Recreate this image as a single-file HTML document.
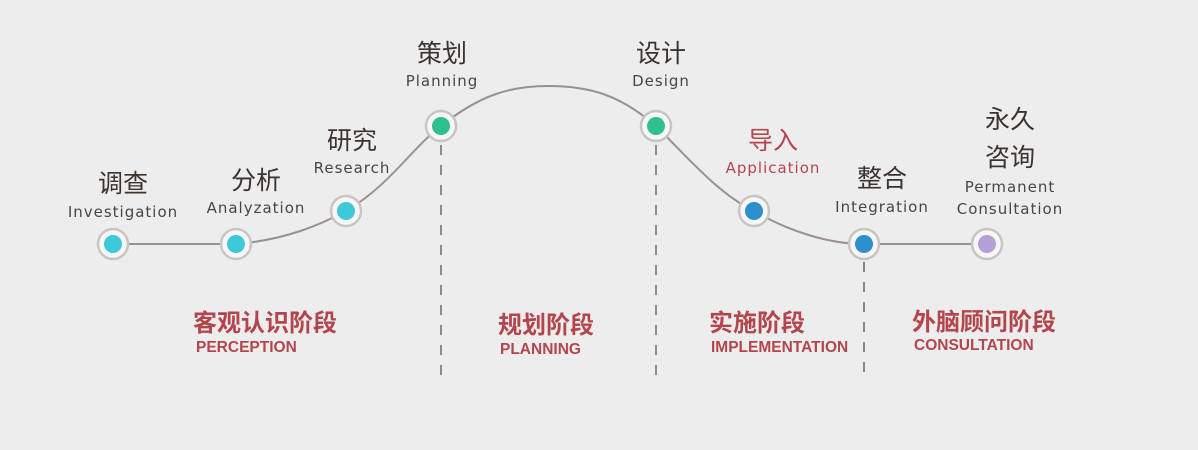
<!DOCTYPE html>
<html><head><meta charset="utf-8"><style>
html,body{margin:0;padding:0;background:#ededed;}
svg{display:block}
.cn{font-family:"Liberation Sans","Noto Sans CJK SC",sans-serif;font-size:25px;fill:#3a3330;text-anchor:middle}
.en{font-family:"DejaVu Sans","Liberation Sans",sans-serif;font-size:15px;fill:#4a4442;text-anchor:middle;letter-spacing:1px}
.rc{font-family:"Liberation Sans","Noto Sans CJK SC",sans-serif;font-size:24px;font-weight:bold;fill:#b3454d}
.re{font-family:"Liberation Sans",sans-serif;font-size:15.5px;font-weight:bold;fill:#b3454d}
</style></head><body>
<svg width="1198" height="450" viewBox="0 0 1198 450">
<g stroke="#8a8a8a" stroke-width="2" stroke-dasharray="10,10" fill="none">
<line x1="441" y1="145" x2="441" y2="382"/>
<line x1="656" y1="145" x2="656" y2="382"/>
<line x1="864" y1="262" x2="864" y2="382"/>
</g>
<path d="M113 244 L236 244 C285 240 320 225 346 211 C390 185 410 150 441 126 C480 95 510 86 548 86 C590 86 620 95 656 126 C690 160 720 195 754 211 C790 232 830 244 864 244 L987 244" fill="none" stroke="#9a9090" stroke-width="2"/>
<g stroke="#c8c4c2" stroke-width="2.5" fill="#f6f6f6">
<circle cx="113" cy="244" r="15"/><circle cx="236" cy="244" r="15"/><circle cx="346" cy="211" r="15"/><circle cx="441" cy="126" r="15"/><circle cx="656" cy="126" r="15"/><circle cx="754" cy="211" r="15"/><circle cx="864" cy="244" r="15"/><circle cx="987" cy="244" r="15"/>
</g>
<circle cx="113" cy="244" r="9" fill="#3ec9d8"/><circle cx="236" cy="244" r="9" fill="#3ec9d8"/><circle cx="346" cy="211" r="9" fill="#3ec9d8"/>
<circle cx="441" cy="126" r="9" fill="#2ec08e"/><circle cx="656" cy="126" r="9" fill="#2ec08e"/>
<circle cx="754" cy="211" r="9" fill="#2d8fcc"/><circle cx="864" cy="244" r="9" fill="#2d8fcc"/>
<circle cx="987" cy="244" r="9" fill="#b5a0d6"/>
<text class="cn" x="123" y="192">调查</text><text class="en" x="123" y="217">Investigation</text>
<text class="cn" x="256" y="189">分析</text><text class="en" x="256" y="213">Analyzation</text>
<text class="cn" x="352" y="149">研究</text><text class="en" x="352" y="173">Research</text>
<text class="cn" x="442" y="62">策划</text><text class="en" x="442" y="86">Planning</text>
<text class="cn" x="661" y="62">设计</text><text class="en" x="661" y="86">Design</text>
<text class="cn" x="773" y="149" style="fill:#b3454d">导入</text><text class="en" x="773" y="173" style="fill:#b3454d">Application</text>
<text class="cn" x="882" y="187">整合</text><text class="en" x="882" y="212">Integration</text>
<text class="cn" x="1010" y="128">永久</text><text class="cn" x="1010" y="166">咨询</text>
<text class="en" x="1010" y="192">Permanent</text><text class="en" x="1010" y="214">Consultation</text>
<text class="rc" x="193" y="331">客观认识阶段</text><text class="re" x="196" y="352">PERCEPTION</text>
<text class="rc" x="498" y="333">规划阶段</text><text class="re" x="500" y="354">PLANNING</text>
<text class="rc" x="709" y="331">实施阶段</text><text class="re" x="711" y="352">IMPLEMENTATION</text>
<text class="rc" x="912" y="330">外脑顾问阶段</text><text class="re" x="914" y="350">CONSULTATION</text>
</svg>
</body></html>
